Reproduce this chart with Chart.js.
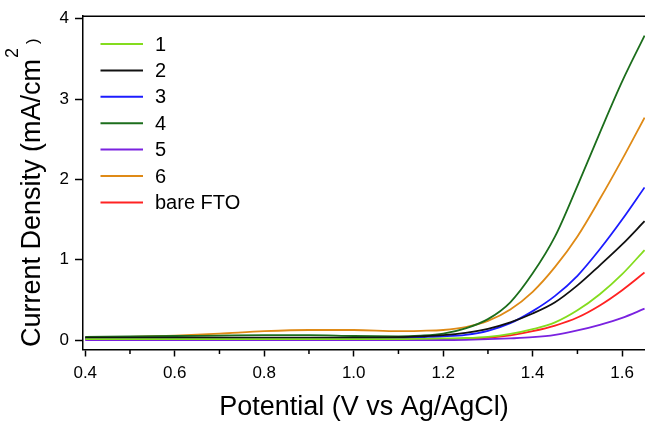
<!DOCTYPE html>
<html>
<head>
<meta charset="utf-8">
<script src="https://cdn.jsdelivr.net/npm/chart.js@4/dist/chart.umd.min.js"></script>
<style>
  html, body { margin: 0; padding: 0; background: #ffffff; }
  #wrap { width: 645px; height: 421px; }
</style>
</head>
<body>
<div id="wrap"><canvas id="c" width="645" height="421"></canvas></div>
<script>
// ---- data ----
const potential = [0.40, 0.50, 0.60, 0.70, 0.80, 0.90, 1.00, 1.10, 1.15, 1.20, 1.25, 1.30, 1.35, 1.40, 1.45, 1.50, 1.55, 1.60, 1.65];
const sample1 = [0.010, 0.010, 0.010, 0.012, 0.012, 0.012, 0.012, 0.012, 0.015, 0.020, 0.025, 0.040, 0.076, 0.135, 0.220, 0.370, 0.570, 0.820, 1.120];
const sample2 = [0.030, 0.030, 0.030, 0.030, 0.030, 0.030, 0.030, 0.035, 0.045, 0.060, 0.090, 0.140, 0.220, 0.330, 0.470, 0.680, 0.930, 1.190, 1.480];
const sample3 = [0.020, 0.020, 0.020, 0.020, 0.020, 0.020, 0.020, 0.025, 0.035, 0.045, 0.065, 0.115, 0.210, 0.360, 0.550, 0.800, 1.130, 1.500, 1.900];
const sample4 = [0.040, 0.045, 0.050, 0.055, 0.060, 0.060, 0.050, 0.045, 0.055, 0.080, 0.145, 0.260, 0.470, 0.830, 1.290, 1.920, 2.580, 3.220, 3.790];
const sample5 = [0.000, 0.000, 0.000, 0.000, 0.000, 0.000, 0.000, 0.000, 0.000, 0.000, 0.003, 0.010, 0.020, 0.035, 0.065, 0.120, 0.190, 0.276, 0.390];
const sample6 = [0.030, 0.040, 0.055, 0.080, 0.110, 0.125, 0.125, 0.110, 0.115, 0.125, 0.160, 0.238, 0.380, 0.600, 0.910, 1.290, 1.755, 2.250, 2.770];
const bareFTO = [0.015, 0.010, 0.010, 0.010, 0.010, 0.010, 0.010, 0.010, 0.010, 0.010, 0.015, 0.028, 0.058, 0.110, 0.180, 0.280, 0.430, 0.620, 0.840];

const seriesLabels = ['1', '2', '3', '4', '5', '6', 'bare FTO'];
const seriesValues = [sample1, sample2, sample3, sample4, sample5, sample6, bareFTO];
const seriesColors = ['#84dc1e', '#111111', '#1c1cff', '#1c6e1c', '#7a22e0', '#df8a16', '#ff2222'];

const xMajorTicks = [0.4, 0.6, 0.8, 1.0, 1.2, 1.4, 1.6];
const xMinorTicks = [0.5, 0.7, 0.9, 1.1, 1.3, 1.5];
const yTicks = [0, 1, 2, 3, 4];

const xTitle = 'Potential (V vs Ag/AgCl)';
const yTitleMain = 'Current Density (mA/cm';
const yTitleSup = '2';
const yTitleEnd = ')';

const FONT = "'Liberation Sans', Arial, Helvetica, sans-serif";

const datasets = seriesLabels.map((lab, i) => ({
  label: lab,
  data: potential.map((p, k) => ({ x: p, y: seriesValues[i][k] })),
  borderColor: seriesColors[i],
  backgroundColor: seriesColors[i],
  borderWidth: 1.8,
  pointRadius: 0,
  fill: false,
  cubicInterpolationMode: 'monotone'
}));

const decorPlugin = {
  id: 'decor',
  afterDraw(chart) {
    const ctx = chart.ctx;
    const a = chart.chartArea;
    const xs = chart.scales.x;
    ctx.save();
    // top frame line
    ctx.strokeStyle = '#000';
    ctx.lineWidth = 1.5;
    ctx.beginPath();
    ctx.moveTo(a.left - 0.75, a.top);
    ctx.lineTo(a.right, a.top);
    ctx.stroke();
    // minor x ticks
    ctx.lineWidth = 1.5;
    xMinorTicks.forEach(v => {
      const px = xs.getPixelForValue(v);
      ctx.beginPath();
      ctx.moveTo(px, a.bottom);
      ctx.lineTo(px, a.bottom + 4.5);
      ctx.stroke();
    });
    // legend
    ctx.font = '20px ' + FONT;
    ctx.textBaseline = 'middle';
    ctx.textAlign = 'left';
    chart.data.datasets.forEach((ds, i) => {
      const y = 44 + i * 26.4;
      ctx.strokeStyle = ds.borderColor;
      ctx.lineWidth = 2;
      ctx.beginPath();
      ctx.moveTo(100.5, y);
      ctx.lineTo(143, y);
      ctx.stroke();
      ctx.fillStyle = '#000';
      ctx.fillText(ds.label, 155, y + 1);
    });
    // y axis title with superscript
    ctx.translate(40, 347);
    ctx.rotate(-Math.PI / 2);
    ctx.textBaseline = 'alphabetic';
    ctx.fillStyle = '#000';
    ctx.font = '27px ' + FONT;
    ctx.fillText(yTitleMain, 0, 0);
    const w1 = ctx.measureText(yTitleMain).width;
    ctx.font = '18px ' + FONT;
    ctx.fillText(yTitleSup, w1 + 1, -22);
    const w2 = ctx.measureText(yTitleSup).width;
    ctx.font = '17px ' + FONT;
    ctx.fillText(yTitleEnd, w1 + w2 + 5, -2);
    ctx.restore();
  }
};

new Chart(document.getElementById('c'), {
  type: 'line',
  data: { datasets },
  options: {
    responsive: false,
    animation: false,
    maintainAspectRatio: false,
    layout: { padding: { top: 16, right: 0, bottom: 0, left: 0 } },
    plugins: {
      legend: { display: false },
      tooltip: { enabled: false }
    },
    scales: {
      x: {
        type: 'linear',
        min: 0.395,
        max: 1.651,
        afterBuildTicks(scale) {
          scale.ticks = xMajorTicks.map(v => ({ value: v }));
        },
        afterFit(scale) { scale.height = 71.5; },
        ticks: {
          color: '#000',
          font: { family: FONT, size: 17 },
          padding: 7,
          maxRotation: 0,
          autoSkip: false,
          callback: (v) => Number(v).toFixed(1)
        },
        grid: {
          drawOnChartArea: false,
          drawTicks: true,
          tickLength: 7,
          tickColor: '#000',
          tickWidth: 1.5
        },
        border: { display: true, color: '#000', width: 1.5 },
        title: {
          display: true,
          text: xTitle,
          color: '#000',
          font: { family: FONT, size: 27, lineHeight: 1 },
          padding: { top: 0, bottom: 0 }
        }
      },
      y: {
        type: 'linear',
        min: -0.118,
        max: 4.032,
        afterBuildTicks(scale) {
          scale.ticks = yTicks.map(v => ({ value: v }));
        },
        afterFit(scale) { scale.width = 83; },
        ticks: {
          color: '#000',
          font: { family: FONT, size: 17 },
          padding: 6,
          callback: (v) => String(v)
        },
        grid: {
          drawOnChartArea: false,
          drawTicks: true,
          tickLength: 8,
          tickColor: '#000',
          tickWidth: 1.5
        },
        border: { display: true, color: '#000', width: 1.5 },
        title: { display: false }
      }
    }
  },
  plugins: [decorPlugin]
});
</script>
</body>
</html>
